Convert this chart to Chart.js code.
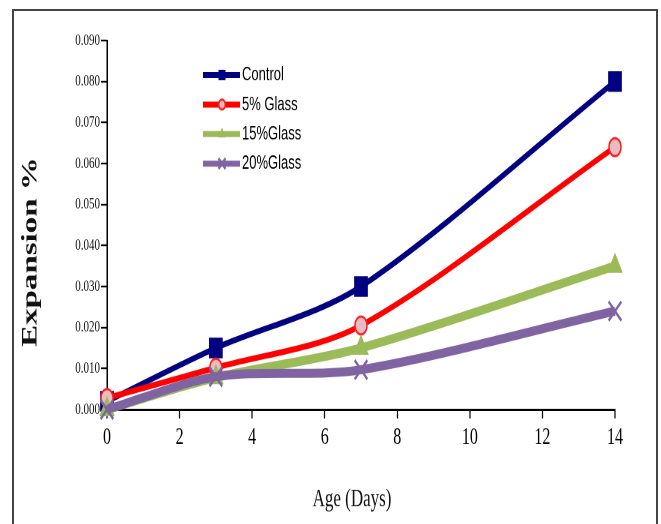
<!DOCTYPE html>
<html>
<head>
<meta charset="utf-8">
<script src="https://cdn.jsdelivr.net/npm/chart.js@4/dist/chart.umd.min.js"></script>
<style>
  html, body { margin: 0; padding: 0; background: #fff; }
  body { width: 661px; height: 524px; overflow: hidden; position: relative; }
  .frame { position: absolute; left: 12px; top: 9px; width: 642px; height: 600px; border: 2px solid #444; }
  /* the source picture is stretched vertically, so the chart is drawn flat and scaled */
  .graph { position: absolute; left: 0; top: 0; width: 661px; height: 350px; transform: scaleY(1.5); transform-origin: 0 0; }
</style>
</head>
<body>
<div class="frame"></div>
<div class="graph"><canvas id="expansionChart" width="661" height="350"></canvas></div>
<script>
const ageDays = [0, 3, 7, 14];
const seriesNames = ["Control", "5% Glass", "15%Glass", "20%Glass"];
const controlValues = [0.002, 0.015, 0.030, 0.080];
const glass5Values = [0.0028, 0.0102, 0.0205, 0.064];
const glass15Values = [0.000, 0.0078, 0.015, 0.035];
const glass20Values = [0.000, 0.0080, 0.0097, 0.024];
const xTickValues = [0, 2, 4, 6, 8, 10, 12, 14];
const yTickValues = [0, 0.01, 0.02, 0.03, 0.04, 0.05, 0.06, 0.07, 0.08, 0.09];
const xTitle = "Age (Days)";
const yTitle = "Expansion %";

const serif = "'Liberation Serif', 'Times New Roman', serif";

function points(values) {
  return ageDays.map((d, i) => ({ x: d, y: values[i] }));
}

function drawMarker(ctx, style, x, y, r, ds) {
  ctx.save();
  ctx.fillStyle = ds.pointBackgroundColor || ds.borderColor;
  ctx.strokeStyle = ds.pointBorderColor || ds.borderColor;
  ctx.lineWidth = ds.pointBorderWidth || 1;
  ctx.beginPath();
  if (style == "rect") {
    const s = r * Math.SQRT1_2;
    ctx.rect(x - s, y - s, 2 * s, 2 * s);
    ctx.fill();
  } else if (style == "circle") {
    ctx.arc(x, y, r, 0, Math.PI * 2);
    ctx.fill();
    ctx.stroke();
  } else if (style == "triangle") {
    ctx.moveTo(x, y - r);
    ctx.lineTo(x + r * 0.866, y + r * 0.5);
    ctx.lineTo(x - r * 0.866, y + r * 0.5);
    ctx.closePath();
    ctx.fill();
  } else if (style == "crossRot") {
    const s = r * Math.SQRT1_2;
    ctx.moveTo(x - s, y - s); ctx.lineTo(x + s, y + s);
    ctx.moveTo(x - s, y + s); ctx.lineTo(x + s, y - s);
    ctx.stroke();
  }
  ctx.restore();
}

// legend sits inside the plot, top left
const insideLegend = {
  id: "insideLegend",
  afterDatasetsDraw(chart) {
    const ctx = chart.ctx;
    ctx.save();
    chart.data.datasets.forEach((ds, i) => {
      const y = 50 + i * 19.7;
      ctx.strokeStyle = ds.borderColor;
      ctx.lineWidth = 4;
      ctx.beginPath();
      ctx.moveTo(203, y);
      ctx.lineTo(240, y);
      ctx.stroke();
      drawMarker(ctx, ds.pointStyle, 222, y, ds.pointRadius * 0.55, ds);
      ctx.fillStyle = "#000";
      ctx.font = "13px 'Liberation Sans', Arial, sans-serif";
      ctx.textBaseline = "middle";
      ctx.textAlign = "left";
      ctx.fillText(ds.label, 242, y);
    });
    ctx.restore();
  }
};

const axisTitles = {
  id: "axisTitles",
  afterDraw(chart) {
    const ctx = chart.ctx;
    ctx.save();
    ctx.fillStyle = "#111";
    ctx.textAlign = "center";
    ctx.textBaseline = "middle";
    ctx.font = "17px " + serif;
    ctx.fillText(xTitle, 352, 333);
    ctx.translate(31, 168);
    ctx.rotate(-Math.PI / 2);
    ctx.font = "bold 22px " + serif;
    ctx.fillText(yTitle, 0, 0);
    ctx.restore();
  }
};

const axisGrid = { drawOnChartArea: false, drawTicks: true, tickLength: 6, tickColor: "#000", tickWidth: 1.2 };
const axisBorder = { color: "#000", width: 1.5 };

new Chart(document.getElementById("expansionChart"), {
  type: "line",
  data: {
    datasets: [
      {
        label: seriesNames[0],
        data: points(controlValues),
        borderColor: "#000080",
        backgroundColor: "#000080",
        pointBackgroundColor: "#000080",
        pointBorderColor: "#000080",
        pointStyle: "rect",
        pointRadius: 9,
        pointBorderWidth: 1,
        borderWidth: 4,
        order: 4,
      },
      {
        label: seriesNames[1],
        data: points(glass5Values),
        borderColor: "#ff0000",
        backgroundColor: "#ff0000",
        pointBackgroundColor: "#e8bcc3",
        pointBorderColor: "#ff2020",
        pointStyle: "circle",
        pointRadius: 6,
        pointBorderWidth: 1.5,
        borderWidth: 4,
        order: 3,
      },
      {
        label: seriesNames[2],
        data: points(glass15Values),
        borderColor: "#9bbb59",
        backgroundColor: "#9bbb59",
        pointBackgroundColor: "#9bbb59",
        pointBorderColor: "#9bbb59",
        pointStyle: "triangle",
        pointRadius: 8,
        pointBorderWidth: 1,
        borderWidth: 6,
        order: 2,
      },
      {
        label: seriesNames[3],
        data: points(glass20Values),
        borderColor: "#8064a2",
        backgroundColor: "#8064a2",
        pointBackgroundColor: "#8064a2",
        pointBorderColor: "#8064a2",
        pointStyle: "crossRot",
        pointRadius: 9,
        pointBorderWidth: 2,
        borderWidth: 6,
        order: 1,
      },
    ],
  },
  options: {
    responsive: false,
    devicePixelRatio: 2,
    animation: false,
    events: [],
    clip: false,
    elements: { line: { tension: 0.3 } },
    layout: { padding: { left: 12, top: 27, right: 46, bottom: 0 } },
    plugins: { legend: { display: false }, tooltip: { enabled: false } },
    scales: {
      x: {
        type: "linear",
        min: 0,
        max: 14,
        afterFit(scale) { scale.height = 77; },
        afterBuildTicks(scale) { scale.ticks = xTickValues.map(v => ({ value: v })); },
        ticks: { font: { family: serif, size: 16 }, color: "#000", padding: 3, maxRotation: 0, autoSkip: false },
        grid: axisGrid,
        border: axisBorder,
      },
      y: {
        min: 0,
        max: 0.09,
        afterFit(scale) { scale.width = 95; },
        afterBuildTicks(scale) { scale.ticks = yTickValues.map(v => ({ value: v })); },
        ticks: { callback: v => v.toFixed(3), font: { family: serif, size: 11 }, color: "#111", padding: 1 },
        grid: axisGrid,
        border: axisBorder,
      },
    },
  },
  plugins: [insideLegend, axisTitles],
});
</script>
</body>
</html>
